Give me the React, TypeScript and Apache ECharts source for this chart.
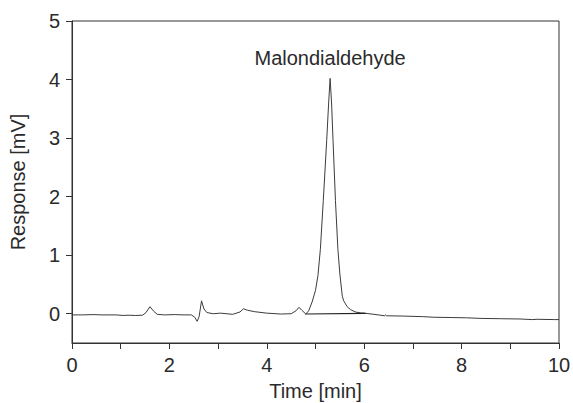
import React, { useEffect, useRef } from "react";
import * as echarts from "echarts";

const times = [
  0, 0.2, 0.45, 0.6, 0.9, 1.05, 1.15, 1.3, 1.45, 1.52, 1.6, 1.68, 1.75, 1.9, 2.1, 2.3, 2.45, 2.52,
  2.57, 2.61, 2.66, 2.71, 2.77, 2.9, 3.05, 3.3, 3.45, 3.52, 3.6, 3.75, 4.0, 4.28, 4.5, 4.6, 4.66,
  4.72, 4.8, 4.86, 4.93, 5.0, 5.05, 5.1, 5.16, 5.23, 5.27, 5.3, 5.33, 5.36, 5.41, 5.46, 5.5, 5.55,
  5.58, 5.65, 5.72, 5.82, 5.92, 6.0, 6.2, 6.42, 6.44, 6.46, 6.8, 7.2, 7.43, 7.8, 8.1, 8.4, 8.8,
  9.2, 9.45, 9.55, 9.9, 10,
];
const response = [
  -0.02, -0.02, -0.015, -0.02, -0.02, -0.03, -0.025, -0.03, -0.025, 0.02, 0.12, 0.04, -0.01,
  -0.02, -0.015, -0.02, -0.02, -0.06, -0.13, -0.05, 0.22, 0.08, 0.02, 0.0, 0.01, -0.01, 0.03,
  0.085, 0.06, 0.035, 0.01, -0.005, 0.0, 0.05, 0.11, 0.06, -0.005, 0.05, 0.2, 0.4, 0.65, 1.1,
  1.93, 2.96, 3.6, 4.02, 3.6, 2.96, 1.93, 1.1, 0.68, 0.3, 0.22, 0.12, 0.07, 0.03, 0.015, 0.01,
  -0.01, -0.035, -0.02, -0.035, -0.04, -0.05, -0.06, -0.065, -0.07, -0.08, -0.085, -0.09, -0.1,
  -0.095, -0.1, -0.1,
];
const baselineTimes = [4.79, 6.03];
const baselineValues = [-0.005, 0.005];
const peakTime = 5.3;
const peakValue = 4.02;
const peakName = "Malondialdehyde";
const yTicks = [0, 1, 2, 3, 4, 5];

const FONT = "Liberation Sans, Arial, Helvetica, sans-serif";
const TEXT = "#2a2a2a";

export default function App() {
  const ref = useRef<HTMLDivElement>(null);
  useEffect(() => {
    if (!ref.current) return;
    const chart = echarts.init(ref.current, null, { renderer: "svg" });
    chart.setOption({
      animation: false,
      backgroundColor: "#fff",
      textStyle: { fontFamily: FONT },
      grid: {
        left: 72,
        top: 21,
        right: 14,
        bottom: 60,
        containLabel: false,
        outerBoundsMode: "none",
        show: true,
        borderColor: "#333",
        borderWidth: 1,
      },
      xAxis: {
        type: "value",
        min: 0,
        max: 10,
        interval: 1,
        name: "Time [min]",
        nameLocation: "middle",
        nameGap: 38,
        nameTextStyle: { fontSize: 20, color: TEXT, fontFamily: FONT },
        axisLine: { onZero: false, lineStyle: { color: "#333", width: 1 } },
        axisTick: { show: true, inside: false, length: 6, lineStyle: { color: "#333" } },
        axisLabel: {
          fontSize: 20,
          color: TEXT,
          fontFamily: FONT,
          margin: 12,
          formatter: (v: number) => (v % 2 === 0 ? String(v) : ""),
        },
        splitLine: { show: false },
      },
      yAxis: {
        type: "value",
        min: -0.5,
        max: 5,
        name: "Response [mV]",
        nameLocation: "middle",
        nameGap: 44,
        nameTextStyle: { fontSize: 20, color: TEXT, fontFamily: FONT },
        axisLine: { onZero: false, lineStyle: { color: "#333", width: 1 } },
        axisTick: {
          show: true,
          inside: false,
          length: 6,
          customValues: yTicks,
          lineStyle: { color: "#333" },
        },
        axisLabel: {
          fontSize: 20,
          color: TEXT,
          fontFamily: FONT,
          margin: 12,
          customValues: yTicks,
        },
        splitLine: { show: false },
      },
      series: [
        {
          type: "line",
          data: times.map((t, i) => [t, response[i]]),
          symbol: "none",
          lineStyle: { color: "#3c3c3c", width: 1 },
          markPoint: {
            symbol: "circle",
            symbolSize: 1,
            itemStyle: { color: "rgba(0,0,0,0)" },
            label: {
              show: true,
              position: "top",
              distance: 10,
              formatter: peakName,
              fontSize: 20,
              color: TEXT,
              fontFamily: FONT,
            },
            data: [{ coord: [peakTime, peakValue] }],
          },
        },
        {
          type: "line",
          data: baselineTimes.map((t, i) => [t, baselineValues[i]]),
          symbol: "none",
          lineStyle: { color: "#222", width: 1.2 },
        },
      ],
    });
    return () => chart.dispose();
  }, []);
  return (
    <div
      ref={ref}
      style={{ position: "absolute", left: 0, top: 0, width: 573, height: 403 }}
    />
  );
}
